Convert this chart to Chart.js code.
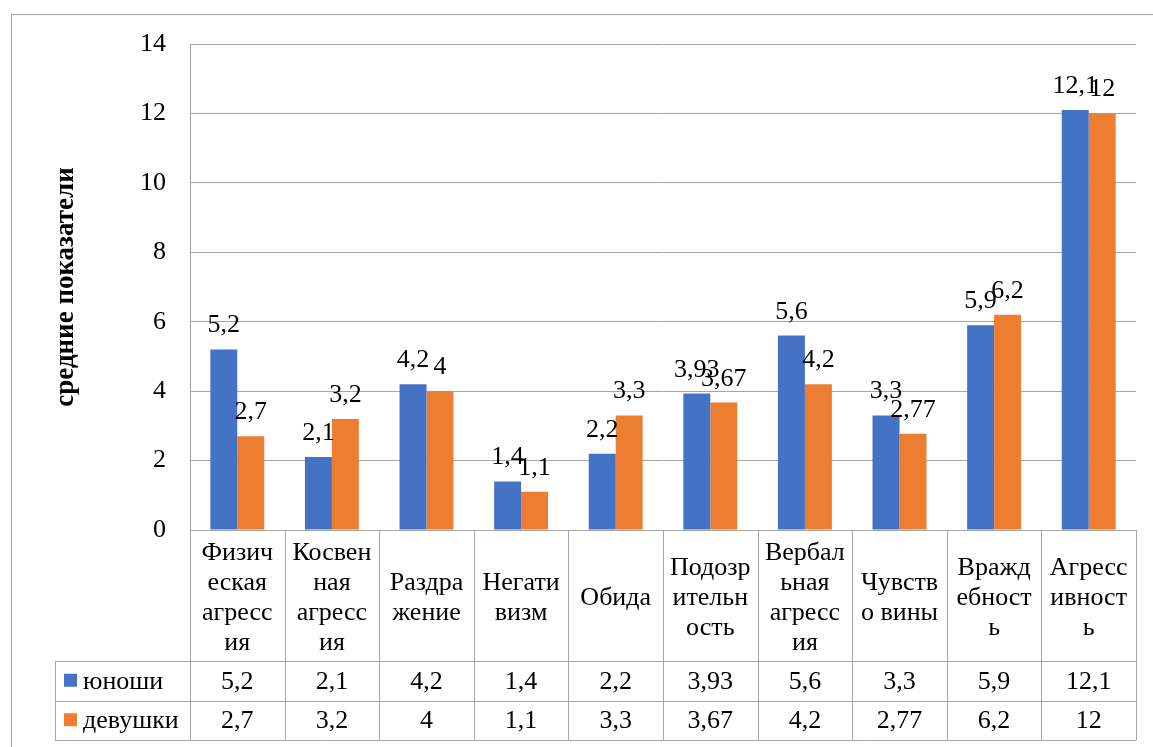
<!DOCTYPE html>
<html>
<head>
<meta charset="utf-8">
<script src="https://cdn.jsdelivr.net/npm/chart.js@4/dist/chart.umd.min.js"></script>
<style>
    html, body { margin: 0; padding: 0; background: #fff; overflow: hidden; }
    #wrap { position: relative; width: 1153px; height: 747px; }
    #frame { position: absolute; left: 11px; top: 14px; width: 1200px; height: 800px;
             border-left: 1px solid #a6a6a6; border-top: 1px solid #a6a6a6; }
    #chart { position: absolute; left: 0; top: 0; }
</style>
</head>
<body>
<div id="wrap">
    <div id="frame"></div>
    <canvas id="chart" width="1153" height="747"></canvas>
</div>
<script>
(function () {

    "use strict";

    // Подписи категорий (с переносами, как в таблице данных)
    var categoryLines = [
        ['Физич', 'еская', 'агресс', 'ия'],
        ['Косвен', 'ная', 'агресс', 'ия'],
        ['Раздра', 'жение'],
        ['Негати', 'визм'],
        ['Обида'],
        ['Подозр', 'ительн', 'ость'],
        ['Вербал', 'ьная', 'агресс', 'ия'],
        ['Чувств', 'о вины'],
        ['Вражд', 'ебност', 'ь'],
        ['Агресс', 'ивност', 'ь']
    ];
    var seriesNames = ['юноши', 'девушки'];
    var boys = [5.2, 2.1, 4.2, 1.4, 2.2, 3.93, 5.6, 3.3, 5.9, 12.1];
    var girls = [2.7, 3.2, 4, 1.1, 3.3, 3.67, 4.2, 2.77, 6.2, 12];
    var yMin = 0, yMax = 14, yStep = 2;

    var COLORS = ['#4472C4', '#ED7D31'];
    var GRID = '#a6a6a6';
    var FONT = '"Liberation Serif", "Times New Roman", serif';

    function fmt(v) {
        return String(v).replace('.', ',');
    }

    // Подписи значений над столбцами
    var valueLabels = {
        id: 'valueLabels',
        afterDatasetsDraw: function (chart) {
            var ctx = chart.ctx;
            ctx.save();
            ctx.font = '26px ' + FONT;
            ctx.fillStyle = '#000';
            ctx.textAlign = 'center';
            ctx.textBaseline = 'alphabetic';
            chart.data.datasets.forEach(function (ds, di) {
                chart.getDatasetMeta(di).data.forEach(function (bar, i) {
                    ctx.fillText(fmt(ds.data[i]), bar.x, bar.y - 17);
                });
            });
            ctx.restore();
        }
    };

    // Таблица данных под осью (как в Excel)
    var dataTable = {
        id: 'dataTable',
        afterDraw: function (chart) {
            var ctx = chart.ctx;
            var area = chart.chartArea;
            var xs = chart.scales.x;
            var step = xs.getPixelForValue(1) - xs.getPixelForValue(0);
            var top = area.bottom;
            var headBottom = top + 131;
            var rowH = 39.5;
            var tableBottom = headBottom + rowH * 2;
            var legendLeft = 55;

            ctx.save();
            ctx.strokeStyle = GRID;
            ctx.lineWidth = 1;
            ctx.beginPath();
            // горизонтальные линии
            [headBottom, headBottom + rowH, tableBottom].forEach(function (y) {
                y = Math.round(y) + 0.5;
                ctx.moveTo(legendLeft, y);
                ctx.lineTo(area.right, y);
            });
            // вертикальные линии
            for (var i = 0; i <= categoryLines.length; i++) {
                var x = Math.round(area.left + i * step) + 0.5;
                ctx.moveTo(x, top);
                ctx.lineTo(x, Math.round(tableBottom) + 0.5);
            }
            ctx.moveTo(legendLeft + 0.5, Math.round(headBottom) + 0.5);
            ctx.lineTo(legendLeft + 0.5, Math.round(tableBottom) + 0.5);
            ctx.stroke();

            ctx.fillStyle = '#000';
            ctx.font = '26px ' + FONT;
            ctx.textAlign = 'center';
            ctx.textBaseline = 'middle';

            // заголовки категорий
            var lineH = 30;
            var midHead = top + 68;
            categoryLines.forEach(function (lines, i) {
                var cx = xs.getPixelForValue(i);
                var y0 = midHead - (lines.length - 1) * lineH / 2;
                lines.forEach(function (t, k) {
                    ctx.fillText(t, cx, y0 + k * lineH);
                });
            });

            // строки значений
            chart.data.datasets.forEach(function (ds, di) {
                var cy = headBottom + rowH * di + rowH / 2 + 1;
                ds.data.forEach(function (v, i) {
                    ctx.fillText(fmt(v), xs.getPixelForValue(i), cy);
                });
                // легенда
                ctx.fillStyle = ds.backgroundColor;
                ctx.fillRect(legendLeft + 9, cy - 8, 13, 13);
                ctx.fillStyle = '#000';
                ctx.textAlign = 'left';
                ctx.fillText(ds.label, legendLeft + 28, cy);
                ctx.textAlign = 'center';
            });
            ctx.restore();
        }
    };

    function draw() {
        new Chart(document.getElementById('chart').getContext('2d'), {
            type: 'bar',
            data: {
                labels: categoryLines.map(function (l) { return l.join(''); }),
                datasets: [
                    { label: seriesNames[0], data: boys, backgroundColor: COLORS[0] },
                    { label: seriesNames[1], data: girls, backgroundColor: COLORS[1] }
                ]
            },
            options: {
                responsive: false,
                animation: false,
                datasets: {
                    bar: { categoryPercentage: 0.57, barPercentage: 1 }
                },
                layout: {
                    padding: { top: 44, right: 17, bottom: 217, left: 0 }
                },
                plugins: {
                    legend: { display: false },
                    tooltip: { enabled: false }
                },
                scales: {
                    x: {
                        display: false
                    },
                    y: {
                        min: yMin,
                        max: yMax,
                        ticks: {
                            stepSize: yStep,
                            padding: 24,
                            color: '#000',
                            font: { family: FONT, size: 26 }
                        },
                        grid: { color: GRID, drawTicks: false },
                        border: { display: true, color: GRID },
                        title: {
                            display: true,
                            text: 'средние показатели',
                            color: '#000',
                            font: { family: FONT, size: 27, weight: 'bold' },
                            padding: { top: 50, bottom: 0 }
                        },
                        afterFit: function (scale) {
                            scale.width = 190;
                        }
                    }
                }
            },
            plugins: [valueLabels, dataTable]
        });
    }

    // дождаться шрифта перед отрисовкой
    if (document.fonts && document.fonts.load) {
        Promise.all([
            document.fonts.load('26px "Liberation Serif"', 'средние 0123'),
            document.fonts.load('bold 27px "Liberation Serif"', 'средние')
        ]).then(draw, draw);
    } else {
        draw();
    }

})();
</script>
</body>
</html>
